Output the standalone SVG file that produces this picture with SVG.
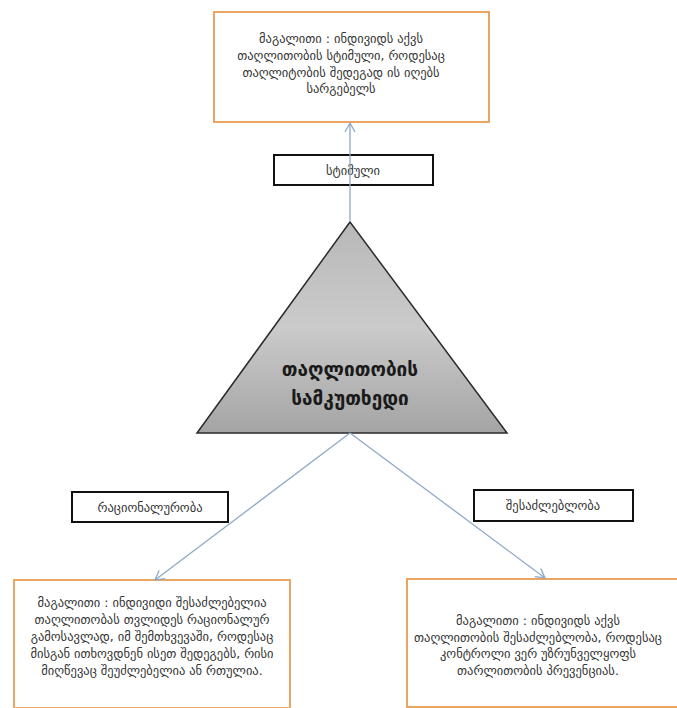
<svg xmlns="http://www.w3.org/2000/svg" width="677" height="708" viewBox="0 0 677 708">
<style>
.ex{fill:#ffffff;stroke:#eba562;stroke-width:2}
.lb{fill:#ffffff;stroke:#111111;stroke-width:2}
.t{font-family:"DejaVu Sans",sans-serif;font-size:12.5px;fill:#333333;text-anchor:middle}
.big{font-family:"DejaVu Sans",sans-serif;font-size:19px;font-weight:bold;fill:#1a1a1a;text-anchor:middle}
.c{fill:none;stroke:#8fa9c9;stroke-width:1.3}
</style>
<defs>
<marker id="ah" markerWidth="12" markerHeight="12" refX="10" refY="6" orient="auto" markerUnits="userSpaceOnUse">
<path d="M1,1 L10,6 L1,11" fill="none" stroke="#8fa9c9" stroke-width="1.3"/>
</marker>
<linearGradient id="tg" x1="0" y1="0" x2="0" y2="1">
<stop offset="0" stop-color="#b8b8b8"/>
<stop offset="0.5" stop-color="#cbcbcb"/>
<stop offset="1" stop-color="#a4a4a4"/>
</linearGradient>
</defs>
<rect width="677" height="708" fill="#ffffff"/>
<g id="example-top">
<rect class="ex" x="214" y="12" width="275" height="110"/>
<text class="t" x="341" y="43">მაგალითი : ინდივიდს აქვს</text>
<text class="t" x="341" y="60">თაღლითობის სტიმული, როდესაც</text>
<text class="t" x="341" y="77">თაღლიტობის შედეგად  ის იღებს</text>
<text class="t" x="341" y="93">სარგებელს</text>
</g>
<g id="triangle">
<polygon points="350,222 197,433 507,433" fill="url(#tg)" stroke="#2a2a2a" stroke-width="1.5"/>
<text class="big" x="350" y="376">თაღლითობის</text>
<text class="big" x="350" y="405">სამკუთხედი</text>
</g>
<g id="label-stimulus">
<rect class="lb" x="274" y="155" width="159" height="30"/>
<text class="t" x="353" y="175">სტიმული</text>
</g>
<g id="label-rationality">
<rect class="lb" x="72" y="492" width="156" height="30"/>
<text class="t" x="150" y="512">რაციონალურობა</text>
</g>
<g id="label-opportunity">
<rect class="lb" x="474" y="490" width="159" height="31"/>
<text class="t" x="553" y="510">შესაძლებლობა</text>
</g>
<g id="example-left">
<rect class="ex" x="14" y="580" width="276" height="128"/>
<text class="t" x="152" y="607">მაგალითი : ინდივიდი შესაძლებელია</text>
<text class="t" x="152" y="624">თაღლითობას თვლიდეს რაციონალურ</text>
<text class="t" x="152" y="641">გამოსავლად, იმ შემთხვევაში, როდესაც</text>
<text class="t" x="152" y="658">მისგან ითხოვდნენ ისეთ  შედეგებს, რისი</text>
<text class="t" x="152" y="675">მიღწევაც შეუძლებელია ან რთულია.</text>
</g>
<g id="example-right">
<rect class="ex" x="407" y="579" width="280" height="128"/>
<text class="t" x="538" y="625">მაგალითი : ინდივიდს აქვს</text>
<text class="t" x="538" y="642">თაღლითობის შესაძლებლობა, როდესაც</text>
<text class="t" x="538" y="658">კონტროლი ვერ უზრუნველყოფს</text>
<text class="t" x="538" y="675">თარლითობის პრევენციას.</text>
</g>
<g id="connectors">
<line class="c" x1="350" y1="222" x2="350" y2="123" marker-end="url(#ah)"/>
<line class="c" x1="350" y1="433" x2="155" y2="580" marker-end="url(#ah)"/>
<line class="c" x1="350" y1="433" x2="545" y2="578" marker-end="url(#ah)"/>
</g>
</svg>
